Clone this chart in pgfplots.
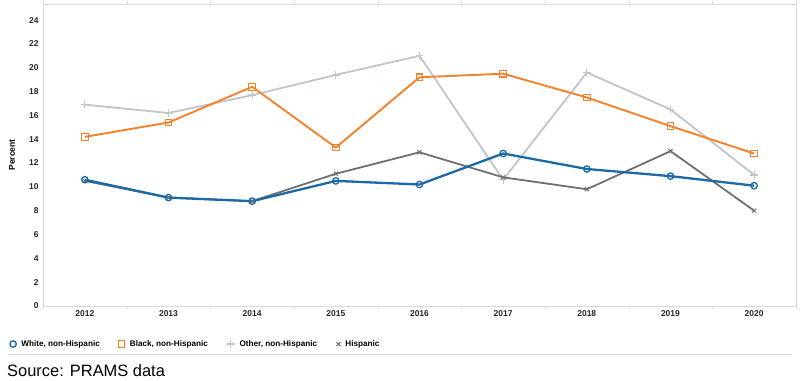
\documentclass[border=0pt]{standalone}
\usepackage{fontspec}
\setmainfont{Liberation Sans}
\usepackage{pgfplots}
\pgfplotsset{compat=1.18}
\definecolor{cwhite}{HTML}{1B6AA5}
\definecolor{cblack}{HTML}{F5822A}
\definecolor{cother}{HTML}{BFC5CC}
\definecolor{chisp}{HTML}{6D7073}
\definecolor{axgray}{HTML}{D9D9D9}
\begin{document}
\begin{tikzpicture}[x=1bp,y=1bp]
\useasboundingbox (0,0) rectangle (800,380);
\begin{axis}[
  at={(43bp,74bp)}, anchor=south west,
  scale only axis, width=753bp, height=302bp,
  xmin=2011.5, xmax=2020.5, ymin=0, ymax=25.35,
  xtick={2012,...,2020}, ytick={0,2,...,24},
  major tick length=0pt,
  minor xtick={2011.5,2012.5,...,2020.5},
  minor tick length=3bp, tick align=outside,
  minor tick style={axgray},
  axis line style={axgray},
  tick label style={font=\bfseries\fontsize{8.5}{10}\selectfont, text=black!85},
  /pgf/number format/assume math mode=true,
  /pgf/number format/1000 sep={},
  yticklabel style={xshift=-1bp},
  xticklabel style={yshift=-1.5bp},
  ylabel={Percent},
  every axis y label/.style={at={(axis description cs:-0.0412,0.5)}, rotate=90, anchor=center, font=\bfseries\fontsize{8.5}{10}\selectfont},
  legend style={at={(axis description cs:-0.0442,-0.126)}, anchor=west, draw=none, fill=none, inner sep=0pt, font=\bfseries\fontsize{8.2}{9}\selectfont, nodes={inner sep=1bp}, /tikz/every odd column/.style={column sep=4bp}},
  legend columns=4,
  legend image code/.code={\draw[#1, only marks] plot coordinates {(0bp,0bp)};},
]
\addlegendimage{cwhite, mark=o, mark size=3.2bp, mark options={line width=1.3bp}}
\addlegendimage{cblack, mark=square, mark size=3.3bp, mark options={line width=1.1bp}}
\addlegendimage{cother, mark=+, mark size=3.8bp, mark options={line width=1.3bp}}
\addlegendimage{chisp, mark=x, mark size=2.8bp, mark options={line width=1bp}}
% Other, non-Hispanic
\addplot[forget plot, cother, line width=1.8bp, mark=+, mark size=3.8bp, mark options={line width=1.3bp}] coordinates {
(2012,16.9) (2013,16.2) (2014,17.7) (2015,19.4) (2016,21.0) (2017,10.6) (2018,19.6) (2019,16.5) (2020,11.0)};
% Hispanic
\addplot[forget plot, chisp, line width=1.8bp, mark=x, mark size=2.8bp, mark options={line width=1bp}] coordinates {
(2012,10.5) (2013,9.1) (2014,8.8) (2015,11.1) (2016,12.9) (2017,10.8) (2018,9.8) (2019,13.0) (2020,8.0)};
% Black, non-Hispanic
\addplot[forget plot, cblack, line width=1.9bp, mark=square, mark size=3.3bp, mark options={line width=1.1bp}] coordinates {
(2012,14.2) (2013,15.4) (2014,18.4) (2015,13.3) (2016,19.2) (2017,19.5) (2018,17.5) (2019,15.1) (2020,12.8)};
% White, non-Hispanic
\addplot[forget plot, cwhite, line width=2.3bp, mark=o, mark size=3.2bp, mark options={line width=1.3bp}] coordinates {
(2012,10.6) (2013,9.1) (2014,8.8) (2015,10.5) (2016,10.2) (2017,12.8) (2018,11.5) (2019,10.9) (2020,10.1)};
\legend{\makebox[96bp][l]{White, non-Hispanic},\makebox[96bp][l]{Black, non-Hispanic},\makebox[96bp][l]{Other, non-Hispanic},\makebox[96bp][l]{Hispanic}}
\end{axis}
\draw[axgray, line width=0.8bp] (8,26) -- (792,26);
\node[anchor=base west, inner sep=0pt, font=\fontsize{16.5}{20}\selectfont] at (7,4) {Source: PRAMS data};
\end{tikzpicture}
\end{document}
